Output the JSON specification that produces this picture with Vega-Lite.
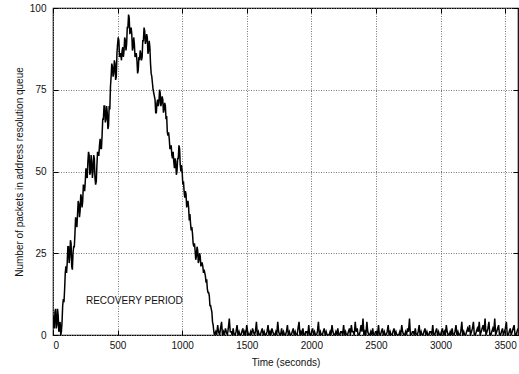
{
  "$schema": "https://vega.github.io/schema/vega-lite/v6.json",
  "width": 465,
  "height": 327,
  "autosize": "none",
  "padding": {"left": 53, "top": 8, "right": 1, "bottom": 39},
  "background": "white",
  "config": {
    "font": "Liberation Sans",
    "view": {"stroke": "black", "strokeWidth": 1.2},
    "axis": {
      "labelFont": "Liberation Sans",
      "labelFontSize": 10,
      "labelColor": "#111",
      "titleFont": "Liberation Sans",
      "titleFontSize": 10,
      "titleFontWeight": "normal",
      "titleColor": "#111",
      "domain": false,
      "gridColor": "#777",
      "gridDash": [1, 1.5],
      "gridWidth": 1,
      "tickColor": "black",
      "tickSize": -5,
      "labelPadding": 11
    }
  },
  "datasets": {
    "queue": [
      {"t":0,"n":6},{"t":5,"n":3},{"t":10,"n":2},{"t":15,"n":7},{"t":20,"n":8},{"t":25,"n":2},{"t":30,"n":3},{"t":35,"n":8},{"t":40,"n":6},{"t":45,"n":1},
      {"t":50,"n":2},{"t":55,"n":4},{"t":60,"n":0},{"t":65,"n":1},{"t":70,"n":4},{"t":75,"n":9},{"t":80,"n":11},{"t":85,"n":10},{"t":90,"n":14},{"t":95,"n":19},
      {"t":100,"n":21},{"t":105,"n":19},{"t":110,"n":22},{"t":115,"n":27},{"t":120,"n":27},{"t":125,"n":22},{"t":130,"n":24},{"t":135,"n":29},{"t":140,"n":28},{"t":145,"n":21},
      {"t":150,"n":20},{"t":155,"n":25},{"t":160,"n":27},{"t":165,"n":27},{"t":170,"n":31},{"t":175,"n":36},{"t":180,"n":35},{"t":185,"n":33},{"t":190,"n":37},{"t":195,"n":41},
      {"t":200,"n":40},{"t":205,"n":36},{"t":210,"n":38},{"t":215,"n":43},{"t":220,"n":42},{"t":225,"n":39},{"t":230,"n":41},{"t":235,"n":46},{"t":240,"n":45},{"t":245,"n":44},
      {"t":250,"n":47},{"t":255,"n":51},{"t":260,"n":49},{"t":265,"n":48},{"t":270,"n":53},{"t":275,"n":56},{"t":280,"n":55},{"t":285,"n":49},{"t":290,"n":50},{"t":295,"n":55},
      {"t":300,"n":53},{"t":305,"n":48},{"t":310,"n":50},{"t":315,"n":55},{"t":320,"n":54},{"t":325,"n":48},{"t":330,"n":46},{"t":335,"n":47},{"t":340,"n":52},{"t":345,"n":56},
      {"t":350,"n":55},{"t":355,"n":55},{"t":360,"n":58},{"t":365,"n":60},{"t":370,"n":57},{"t":375,"n":57},{"t":380,"n":61},{"t":385,"n":66},{"t":390,"n":66},{"t":395,"n":70},
      {"t":400,"n":70},{"t":405,"n":65},{"t":410,"n":66},{"t":415,"n":70},{"t":420,"n":68},{"t":425,"n":63},{"t":430,"n":64},{"t":435,"n":70},{"t":440,"n":69},{"t":445,"n":76},
      {"t":450,"n":79},{"t":455,"n":83},{"t":460,"n":82},{"t":465,"n":79},{"t":470,"n":80},{"t":475,"n":84},{"t":480,"n":83},{"t":485,"n":78},{"t":490,"n":79},{"t":495,"n":86},
      {"t":500,"n":89},{"t":505,"n":91},{"t":510,"n":90},{"t":515,"n":85},{"t":520,"n":86},{"t":525,"n":86},{"t":530,"n":84},{"t":535,"n":87},{"t":540,"n":88},{"t":545,"n":85},
      {"t":550,"n":87},{"t":555,"n":91},{"t":560,"n":90},{"t":565,"n":87},{"t":570,"n":89},{"t":575,"n":94},{"t":580,"n":94},{"t":585,"n":98},{"t":590,"n":97},{"t":595,"n":92},
      {"t":600,"n":93},{"t":605,"n":94},{"t":610,"n":92},{"t":615,"n":87},{"t":620,"n":88},{"t":625,"n":91},{"t":630,"n":89},{"t":635,"n":85},{"t":640,"n":86},{"t":645,"n":86},
      {"t":650,"n":84},{"t":655,"n":80},{"t":660,"n":81},{"t":665,"n":85},{"t":670,"n":84},{"t":675,"n":87},{"t":680,"n":86},{"t":685,"n":84},{"t":690,"n":85},{"t":695,"n":90},
      {"t":700,"n":90},{"t":705,"n":94},{"t":710,"n":93},{"t":715,"n":89},{"t":720,"n":90},{"t":725,"n":92},{"t":730,"n":91},{"t":735,"n":86},{"t":740,"n":87},{"t":745,"n":90},
      {"t":750,"n":88},{"t":755,"n":83},{"t":760,"n":80},{"t":765,"n":79},{"t":770,"n":77},{"t":775,"n":75},{"t":780,"n":74},{"t":785,"n":73},{"t":790,"n":72},{"t":795,"n":68},
      {"t":800,"n":68},{"t":805,"n":71},{"t":810,"n":72},{"t":815,"n":70},{"t":820,"n":71},{"t":825,"n":75},{"t":830,"n":74},{"t":835,"n":70},{"t":840,"n":71},{"t":845,"n":73},
      {"t":850,"n":72},{"t":855,"n":68},{"t":860,"n":69},{"t":865,"n":71},{"t":870,"n":70},{"t":875,"n":66},{"t":880,"n":67},{"t":885,"n":62},{"t":890,"n":61},{"t":895,"n":62},
      {"t":900,"n":60},{"t":905,"n":57},{"t":910,"n":57},{"t":915,"n":58},{"t":920,"n":55},{"t":925,"n":54},{"t":930,"n":56},{"t":935,"n":53},{"t":940,"n":51},{"t":945,"n":54},
      {"t":950,"n":53},{"t":955,"n":49},{"t":960,"n":50},{"t":965,"n":54},{"t":970,"n":54},{"t":975,"n":58},{"t":980,"n":57},{"t":985,"n":52},{"t":990,"n":50},{"t":995,"n":52},
      {"t":1000,"n":50},{"t":1005,"n":46},{"t":1010,"n":47},{"t":1015,"n":44},{"t":1020,"n":42},{"t":1025,"n":44},{"t":1030,"n":43},{"t":1035,"n":39},{"t":1040,"n":40},{"t":1045,"n":41},
      {"t":1050,"n":39},{"t":1055,"n":35},{"t":1060,"n":37},{"t":1065,"n":34},{"t":1070,"n":32},{"t":1075,"n":33},{"t":1080,"n":31},{"t":1085,"n":28},{"t":1090,"n":27},{"t":1095,"n":28},
      {"t":1100,"n":26},{"t":1105,"n":23},{"t":1110,"n":24},{"t":1115,"n":27},{"t":1120,"n":26},{"t":1125,"n":22},{"t":1130,"n":23},{"t":1135,"n":25},{"t":1140,"n":24},{"t":1145,"n":21},
      {"t":1150,"n":22},{"t":1155,"n":22},{"t":1160,"n":21},{"t":1165,"n":19},{"t":1170,"n":20},{"t":1175,"n":19},{"t":1180,"n":18},{"t":1185,"n":16},{"t":1190,"n":17},{"t":1195,"n":14},
      {"t":1200,"n":13},{"t":1205,"n":13},{"t":1210,"n":12},{"t":1215,"n":9},{"t":1220,"n":9},{"t":1225,"n":8},{"t":1230,"n":7},{"t":1235,"n":4},{"t":1240,"n":3},{"t":1245,"n":1},
      {"t":1250,"n":0},
      {"t":1260,"n":1},{"t":1267,"n":0},{"t":1275,"n":3},{"t":1282,"n":1},{"t":1290,"n":0},{"t":1297,"n":2},{"t":1305,"n":4},{"t":1312,"n":0},{"t":1320,"n":1},{"t":1327,"n":0},
      {"t":1335,"n":2},{"t":1342,"n":1},{"t":1350,"n":0},{"t":1357,"n":2},{"t":1365,"n":5},{"t":1372,"n":1},{"t":1380,"n":1},{"t":1387,"n":0},{"t":1395,"n":2},{"t":1402,"n":0},
      {"t":1410,"n":0},{"t":1417,"n":1},{"t":1425,"n":3},{"t":1432,"n":0},{"t":1440,"n":1},{"t":1447,"n":0},{"t":1455,"n":0},{"t":1462,"n":1},{"t":1470,"n":2},{"t":1477,"n":0},
      {"t":1485,"n":1},{"t":1492,"n":0},{"t":1500,"n":3},{"t":1507,"n":1},{"t":1515,"n":0},{"t":1522,"n":0},{"t":1530,"n":1},{"t":1537,"n":0},{"t":1545,"n":2},{"t":1552,"n":1},
      {"t":1560,"n":0},{"t":1567,"n":1},{"t":1575,"n":4},{"t":1582,"n":0},{"t":1590,"n":1},{"t":1597,"n":0},{"t":1605,"n":0},{"t":1612,"n":1},{"t":1620,"n":2},{"t":1627,"n":0},
      {"t":1635,"n":1},{"t":1642,"n":0},{"t":1650,"n":0},{"t":1657,"n":1},{"t":1665,"n":3},{"t":1672,"n":0},{"t":1680,"n":1},{"t":1687,"n":0},{"t":1695,"n":2},{"t":1702,"n":1},
      {"t":1710,"n":0},{"t":1717,"n":0},{"t":1725,"n":1},{"t":1732,"n":0},{"t":1740,"n":4},{"t":1747,"n":1},{"t":1755,"n":0},{"t":1762,"n":0},{"t":1770,"n":2},{"t":1777,"n":0},
      {"t":1785,"n":1},{"t":1792,"n":0},{"t":1800,"n":0},{"t":1807,"n":1},{"t":1815,"n":3},{"t":1822,"n":0},{"t":1830,"n":1},{"t":1837,"n":0},{"t":1845,"n":0},{"t":1852,"n":1},
      {"t":1860,"n":2},{"t":1867,"n":0},{"t":1875,"n":1},{"t":1882,"n":0},{"t":1890,"n":0},{"t":1897,"n":2},{"t":1905,"n":4},{"t":1912,"n":0},{"t":1920,"n":1},{"t":1927,"n":0},
      {"t":1935,"n":2},{"t":1942,"n":0},{"t":1950,"n":0},{"t":1957,"n":1},{"t":1965,"n":1},{"t":1972,"n":0},{"t":1980,"n":3},{"t":1987,"n":0},{"t":1995,"n":0},{"t":2002,"n":1},
      {"t":2010,"n":2},{"t":2017,"n":0},{"t":2025,"n":1},{"t":2032,"n":0},{"t":2040,"n":0},{"t":2047,"n":1},{"t":2055,"n":4},{"t":2062,"n":0},{"t":2070,"n":1},{"t":2077,"n":0},
      {"t":2085,"n":0},{"t":2092,"n":1},{"t":2100,"n":2},{"t":2107,"n":0},{"t":2115,"n":1},{"t":2122,"n":0},{"t":2130,"n":0},{"t":2137,"n":0},{"t":2145,"n":1},{"t":2152,"n":0},
      {"t":2160,"n":3},{"t":2167,"n":1},{"t":2175,"n":0},{"t":2182,"n":0},{"t":2190,"n":1},{"t":2197,"n":0},{"t":2205,"n":2},{"t":2212,"n":0},{"t":2220,"n":0},{"t":2227,"n":1},
      {"t":2235,"n":1},{"t":2242,"n":0},{"t":2250,"n":3},{"t":2257,"n":0},{"t":2265,"n":1},{"t":2272,"n":0},{"t":2280,"n":0},{"t":2287,"n":1},{"t":2295,"n":2},{"t":2302,"n":0},
      {"t":2310,"n":3},{"t":2317,"n":1},{"t":2325,"n":1},{"t":2332,"n":0},{"t":2340,"n":4},{"t":2347,"n":1},{"t":2355,"n":2},{"t":2362,"n":0},{"t":2370,"n":0},{"t":2377,"n":1},
      {"t":2385,"n":3},{"t":2392,"n":1},{"t":2400,"n":5},{"t":2407,"n":0},{"t":2415,"n":1},{"t":2422,"n":0},{"t":2430,"n":4},{"t":2437,"n":1},{"t":2445,"n":0},{"t":2452,"n":0},
      {"t":2460,"n":1},{"t":2467,"n":0},{"t":2475,"n":2},{"t":2482,"n":0},{"t":2490,"n":0},{"t":2497,"n":1},{"t":2505,"n":1},{"t":2512,"n":0},{"t":2520,"n":3},{"t":2527,"n":0},
      {"t":2535,"n":0},{"t":2542,"n":1},{"t":2550,"n":2},{"t":2557,"n":0},{"t":2565,"n":1},{"t":2572,"n":0},{"t":2580,"n":0},{"t":2587,"n":1},{"t":2595,"n":3},{"t":2602,"n":0},
      {"t":2610,"n":1},{"t":2617,"n":0},{"t":2625,"n":0},{"t":2632,"n":1},{"t":2640,"n":2},{"t":2647,"n":0},{"t":2655,"n":1},{"t":2662,"n":0},{"t":2670,"n":0},{"t":2677,"n":0},
      {"t":2685,"n":1},{"t":2692,"n":0},{"t":2700,"n":3},{"t":2707,"n":1},{"t":2715,"n":0},{"t":2722,"n":0},{"t":2730,"n":1},{"t":2737,"n":0},{"t":2745,"n":2},{"t":2752,"n":1},
      {"t":2760,"n":5},{"t":2767,"n":0},{"t":2775,"n":0},{"t":2782,"n":1},{"t":2790,"n":1},{"t":2797,"n":0},{"t":2805,"n":2},{"t":2812,"n":0},{"t":2820,"n":0},{"t":2827,"n":1},
      {"t":2835,"n":3},{"t":2842,"n":0},{"t":2850,"n":1},{"t":2857,"n":0},{"t":2865,"n":0},{"t":2872,"n":1},{"t":2880,"n":2},{"t":2887,"n":0},{"t":2895,"n":1},{"t":2902,"n":0},
      {"t":2910,"n":0},{"t":2917,"n":1},{"t":2925,"n":1},{"t":2932,"n":0},{"t":2940,"n":3},{"t":2947,"n":0},{"t":2955,"n":0},{"t":2962,"n":1},{"t":2970,"n":2},{"t":2977,"n":0},
      {"t":2985,"n":1},{"t":2992,"n":0},{"t":3000,"n":0},{"t":3007,"n":1},{"t":3015,"n":2},{"t":3022,"n":0},{"t":3030,"n":1},{"t":3037,"n":0},{"t":3045,"n":3},{"t":3052,"n":1},
      {"t":3060,"n":0},{"t":3067,"n":0},{"t":3075,"n":1},{"t":3082,"n":0},{"t":3090,"n":2},{"t":3097,"n":0},{"t":3105,"n":0},{"t":3112,"n":1},{"t":3120,"n":3},{"t":3127,"n":0},
      {"t":3135,"n":1},{"t":3142,"n":0},{"t":3150,"n":0},{"t":3157,"n":1},{"t":3165,"n":4},{"t":3172,"n":0},{"t":3180,"n":1},{"t":3187,"n":0},{"t":3195,"n":0},{"t":3202,"n":1},
      {"t":3210,"n":2},{"t":3217,"n":1},{"t":3225,"n":3},{"t":3232,"n":0},{"t":3240,"n":1},{"t":3247,"n":2},{"t":3255,"n":4},{"t":3262,"n":0},{"t":3270,"n":0},{"t":3277,"n":1},
      {"t":3285,"n":2},{"t":3292,"n":1},{"t":3300,"n":4},{"t":3307,"n":0},{"t":3315,"n":1},{"t":3322,"n":2},{"t":3330,"n":3},{"t":3337,"n":1},{"t":3345,"n":5},{"t":3352,"n":0},
      {"t":3360,"n":1},{"t":3367,"n":2},{"t":3375,"n":4},{"t":3382,"n":0},{"t":3390,"n":0},{"t":3397,"n":1},{"t":3405,"n":2},{"t":3412,"n":1},{"t":3420,"n":5},{"t":3427,"n":0},
      {"t":3435,"n":1},{"t":3442,"n":2},{"t":3450,"n":3},{"t":3457,"n":0},{"t":3465,"n":0},{"t":3472,"n":1},{"t":3480,"n":2},{"t":3487,"n":0},{"t":3495,"n":1},{"t":3502,"n":2},
      {"t":3510,"n":4},{"t":3517,"n":0},{"t":3525,"n":0},{"t":3532,"n":1},{"t":3540,"n":2},{"t":3547,"n":0},{"t":3555,"n":1},{"t":3562,"n":2},{"t":3570,"n":3},{"t":3577,"n":0},
      {"t":3585,"n":0},{"t":3592,"n":1},{"t":3600,"n":2}
    ],
    "notes": [
      {"t": 630, "n": 10.3, "label": "RECOVERY PERIOD"}
    ]
  },
  "resolve": {"axis": {"x": "independent", "y": "independent"}},
  "layer": [
    {
      "data": {"name": "queue"},
      "mark": {"type": "line", "color": "black", "strokeWidth": 1.5, "clip": true},
      "encoding": {
        "x": {
          "field": "t",
          "type": "quantitative",
          "scale": {"domain": [0, 3600], "nice": false, "zero": false},
          "axis": {"orient": "bottom", "title": "Time (seconds)", "format": "d", "grid": true, "values": [0, 500, 1000, 1500, 2000, 2500, 3000, 3500], "labelPadding": 10, "titlePadding": 7}
        },
        "y": {
          "field": "n",
          "type": "quantitative",
          "scale": {"domain": [0, 100], "nice": false},
          "axis": {"orient": "left", "title": "Number of packets in address resolution queue", "format": "d", "grid": true, "values": [0, 25, 50, 75, 100], "labelPadding": 12, "titlePadding": 5}
        }
      }
    },
    {
      "data": {"name": "notes"},
      "mark": {"type": "text", "font": "Liberation Sans", "fontSize": 10, "color": "#111", "align": "center", "baseline": "middle"},
      "encoding": {
        "x": {
          "field": "t",
          "type": "quantitative",
          "axis": {"orient": "top", "title": null, "labels": false, "grid": false, "values": [0, 500, 1000, 1500, 2000, 2500, 3000, 3500]}
        },
        "y": {
          "field": "n",
          "type": "quantitative",
          "axis": {"orient": "right", "title": null, "labels": false, "grid": false, "values": [0, 25, 50, 75, 100]}
        },
        "text": {"field": "label"}
      }
    }
  ]
}
